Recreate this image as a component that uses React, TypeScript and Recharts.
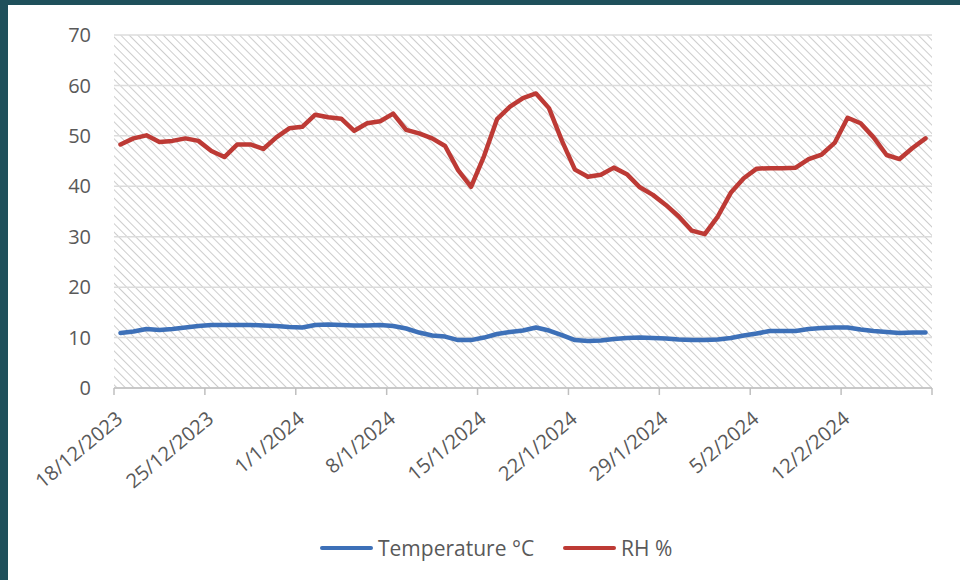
import React from 'react';
import { LineChart, Line, XAxis, YAxis, CartesianGrid, Legend } from 'recharts';

// one reading per day, 18/12/2023 .. 18/2/2024
const days = [
  '18/12/2023', '19/12/2023', '20/12/2023', '21/12/2023', '22/12/2023', '23/12/2023', '24/12/2023',
  '25/12/2023', '26/12/2023', '27/12/2023', '28/12/2023', '29/12/2023', '30/12/2023', '31/12/2023',
  '1/1/2024', '2/1/2024', '3/1/2024', '4/1/2024', '5/1/2024', '6/1/2024', '7/1/2024',
  '8/1/2024', '9/1/2024', '10/1/2024', '11/1/2024', '12/1/2024', '13/1/2024', '14/1/2024',
  '15/1/2024', '16/1/2024', '17/1/2024', '18/1/2024', '19/1/2024', '20/1/2024', '21/1/2024',
  '22/1/2024', '23/1/2024', '24/1/2024', '25/1/2024', '26/1/2024', '27/1/2024', '28/1/2024',
  '29/1/2024', '30/1/2024', '31/1/2024', '1/2/2024', '2/2/2024', '3/2/2024', '4/2/2024',
  '5/2/2024', '6/2/2024', '7/2/2024', '8/2/2024', '9/2/2024', '10/2/2024', '11/2/2024',
  '12/2/2024', '13/2/2024', '14/2/2024', '15/2/2024', '16/2/2024', '17/2/2024', '18/2/2024',
];

const temperature = [
  10.9, 11.2, 11.7, 11.5, 11.7, 12.0, 12.3, 12.5, 12.5, 12.5, 12.5, 12.4, 12.3, 12.1,
  12.0, 12.5, 12.6, 12.5, 12.4, 12.4, 12.5, 12.3, 11.8, 11.0, 10.4, 10.2, 9.5, 9.5,
  10.0, 10.7, 11.1, 11.4, 12.0, 11.4, 10.5, 9.5, 9.3, 9.4, 9.7, 9.9, 10.0, 9.9,
  9.8, 9.6, 9.5, 9.5, 9.6, 9.9, 10.4, 10.8, 11.3, 11.3, 11.3, 11.7, 11.9, 12.0,
  12.0, 11.6, 11.3, 11.1, 10.9, 11.0, 11.0,
];

const humidity = [
  48.3, 49.5, 50.1, 48.8, 49.0, 49.5, 49.0, 47.0, 45.8, 48.3, 48.3, 47.4, 49.7, 51.5,
  51.8, 54.2, 53.7, 53.4, 51.0, 52.5, 52.9, 54.4, 51.2, 50.5, 49.5, 48.0, 43.2, 39.9,
  46.0, 53.3, 55.8, 57.5, 58.4, 55.5, 49.0, 43.3, 41.9, 42.3, 43.7, 42.4, 39.8, 38.3,
  36.3, 34.0, 31.2, 30.5, 34.0, 38.7, 41.6, 43.5, 43.6, 43.6, 43.7, 45.4, 46.3, 48.6,
  53.6, 52.5, 49.7, 46.2, 45.4, 47.6, 49.5,
];

// week boundaries on the date axis and their labels
const weekTicks = [-0.5, 6.5, 13.5, 20.5, 27.5, 34.5, 41.5, 48.5, 55.5, 62.5];
const weekLabels = [
  '18/12/2023', '25/12/2023', '1/1/2024', '8/1/2024', '15/1/2024',
  '22/1/2024', '29/1/2024', '5/2/2024', '12/2/2024', '',
];
const yTicks = [0, 10, 20, 30, 40, 50, 60, 70];

const BLUE = '#3d70b8';
const RED = '#bd3a35';
const TEXT = '#595959';
const FONT = '"Open Sans", "Noto Sans", sans-serif';

const data = days.map((day, i) => ({
  idx: i,
  day,
  temp: temperature[i],
  rh: humidity[i],
}));

function DateTick(props: any) {
  const { x, y, index } = props;
  return (
    <g transform={`translate(${x + 10},${y + 26}) rotate(-40)`}>
      <text textAnchor="end" fill={TEXT} fontSize={20} fontFamily={FONT}>
        {weekLabels[index]}
      </text>
    </g>
  );
}

function LegendBox() {
  const swatch = (c: string) => (
    <span style={{ display: 'inline-block', width: 53, height: 4, borderRadius: 2, background: c }} />
  );
  return (
    <div
      style={{
        display: 'flex',
        alignItems: 'center',
        height: 24,
        fontFamily: FONT,
        fontSize: 21,
        color: TEXT,
        whiteSpace: 'nowrap',
      }}
    >
      {swatch(BLUE)}
      <span style={{ marginLeft: 5 }}>Temperature °C</span>
      <span style={{ width: 29 }} />
      {swatch(RED)}
      <span style={{ marginLeft: 5 }}>RH %</span>
    </div>
  );
}

export default function App() {
  return (
    <div style={{ position: 'fixed', left: 0, top: 0, width: 960, height: 580, background: '#1f505b' }}>
      <div style={{ position: 'absolute', left: 8, top: 5, right: 0, bottom: 0, background: '#ffffff' }} />
      <div style={{ position: 'absolute', left: 0, top: 0 }}>
        <LineChart width={960} height={580} data={data} margin={{ top: 35, right: 28, bottom: 0, left: 54 }}>
          <defs>
            <pattern id="hatch" width="6" height="6" patternUnits="userSpaceOnUse" patternTransform="rotate(-45)">
              <rect width="6" height="6" fill="#ffffff" />
              <line x1="0" y1="0" x2="0" y2="6" stroke="#cdcdcd" strokeWidth="2" />
            </pattern>
          </defs>
          <CartesianGrid vertical={false} stroke="#dcdcdc" strokeWidth={1.5} fill="url(#hatch)" fillOpacity={1} />
          <XAxis
            dataKey="idx"
            type="number"
            domain={[-0.5, 62.5]}
            ticks={weekTicks}
            interval={0}
            allowDataOverflow
            height={168}
            stroke="#bfbfbf"
            strokeWidth={1.5}
            tickSize={7}
            tickMargin={0}
            tick={<DateTick />}
          />
          <YAxis
            domain={[0, 70]}
            ticks={yTicks}
            width={60}
            axisLine={false}
            tickLine={false}
            tickSize={0}
            tickMargin={23}
            tick={{ fill: TEXT, fontSize: 20, fontFamily: FONT }}
          />
          <Legend
            verticalAlign="bottom"
            content={() => <LegendBox />}
            wrapperStyle={{ left: 320, bottom: 20, width: 420, height: 24 }}
          />
          <Line
            dataKey="temp"
            name="Temperature °C"
            stroke={BLUE}
            strokeWidth={4.5}
            dot={false}
            activeDot={false}
            strokeLinejoin="round"
            strokeLinecap="round"
            isAnimationActive={false}
          />
          <Line
            dataKey="rh"
            name="RH %"
            stroke={RED}
            strokeWidth={4.5}
            dot={false}
            activeDot={false}
            strokeLinejoin="round"
            strokeLinecap="round"
            isAnimationActive={false}
          />
        </LineChart>
      </div>
    </div>
  );
}
